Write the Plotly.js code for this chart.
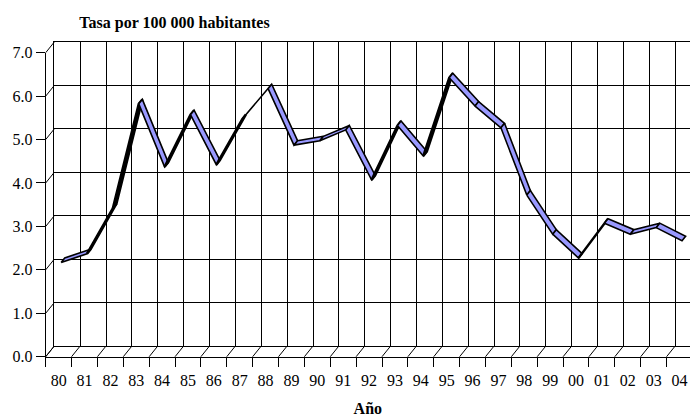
<!DOCTYPE html>
<html>
<head>
<meta charset="utf-8">
<script src="https://cdn.plot.ly/plotly-3.0.1.min.js"></script>
<style>html,body{margin:0;padding:0;background:#fff;}#chart{width:690px;height:417px;}</style>
</head>
<body>
<div id="chart"></div>
<script>
// ---- data ----
const years = ['80','81','82','83','84','85','86','87','88','89','90','91','92','93','94','95','96','97','98','99','00','01','02','03','04'];
const rate = [2.1, 2.3, 3.35, 5.75, 4.3, 5.5, 4.35, 5.4, 6.1, 4.8, 4.9, 5.15, 4.0, 5.25, 4.55, 6.35, 5.7, 5.2, 3.65, 2.75, 2.2, 3.0, 2.75, 2.9, 2.6];
const yTicks = [0, 1, 2, 3, 4, 5, 6, 7];
const titleText = 'Tasa por 100 000 habitantes';
const xTitleText = 'Año';

// ---- geometry (pixels) ----
const W = 690, H = 417;
const FX0 = 45.7, FY0 = 356.7;   // front origin
const CW = 25.87, UH = 43.43;    // category width, unit height
const DX = 8.6, DY = 10.7;       // full depth offset
const RIB = 0.42;                // ribbon depth fraction
const fontFam = '"Liberation Serif", "Times New Roman", serif';

const px = p => p / W;
const py = p => 1 - p / H;
const idx = years.map((_, i) => i);
const bounds = years.map((_, i) => i - 0.5);

function axisPair(ox, oy, extra) {
  return {
    x: Object.assign({
      domain: [px(FX0 + ox), 1],
      range: [-0.5, -0.5 + (W - FX0 - ox) / CW],
      zeroline: false, showgrid: false, fixedrange: true
    }, extra.x),
    y: Object.assign({
      domain: [py(FY0 - oy), py(FY0 - oy - 7 * UH)],
      range: [0, 7],
      zeroline: false, showgrid: false, fixedrange: true
    }, extra.y)
  };
}

const front = axisPair(0, 0, {
  x: {
    anchor: 'y', type: 'category', categoryorder: 'array', categoryarray: years,
    tickson: 'boundaries', ticks: 'outside', ticklen: 9, tickcolor: '#000', tickwidth: 1,
    ticklabelstandoff: 9,
    showline: true, linecolor: '#000', linewidth: 1,
    tickfont: { family: fontFam, size: 16, color: '#000' },
    title: { text: xTitleText, standoff: 15, font: { family: fontFam, size: 16, color: '#000', weight: 'bold' } }
  },
  y: {
    anchor: 'x', tickmode: 'array', tickvals: yTicks, tickformat: '.1f',
    ticks: 'outside', ticklen: 9, tickcolor: '#000', tickwidth: 1,
    showline: true, linecolor: '#000', linewidth: 1,
    tickfont: { family: fontFam, size: 16, color: '#000' }
  }
});

const back = axisPair(DX, DY, {
  x: {
    anchor: 'y2', tickmode: 'array', tickvals: bounds, showticklabels: false, ticks: '',
    showgrid: true, gridcolor: '#000', gridwidth: 1,
    showline: true, mirror: true, linecolor: '#000', linewidth: 1
  },
  y: {
    anchor: 'x2', tickmode: 'array', tickvals: yTicks, showticklabels: false, ticks: '',
    showgrid: true, gridcolor: '#000', gridwidth: 1,
    showline: true, mirror: false, linecolor: '#000', linewidth: 1
  }
});

const mid = axisPair(DX / 2, DY / 2, {
  x: { anchor: 'y3', showticklabels: false, ticks: '', showline: false },
  y: { anchor: 'x3', showticklabels: false, ticks: '', showline: false }
});

const traces = [];
// carrier traces so the front and back subplots are built (invisible)
traces.push({ type: 'scatter', mode: 'lines', x: years, y: rate, xaxis: 'x', yaxis: 'y',
  line: { color: 'rgba(0,0,0,0)' }, hoverinfo: 'skip', showlegend: false });
traces.push({ type: 'scatter', mode: 'lines', x: idx, y: rate, xaxis: 'x2', yaxis: 'y2',
  line: { color: 'rgba(0,0,0,0)' }, hoverinfo: 'skip', showlegend: false });

// ---- ribbon (3D line) ----
const hx = (RIB * DX / 2) / CW, hy = (RIB * DY / 2) / UH;
for (let i = 0; i < rate.length - 1; i++) {
  const v1 = rate[i], v2 = rate[i + 1];
  const cross = CW * (-RIB * DY) + (v2 - v1) * UH * (RIB * DX);
  const top = cross < 0;
  traces.push({
    type: 'scatter', mode: 'lines', xaxis: 'x3', yaxis: 'y3',
    x: [i - hx, i + 1 - hx, i + 1 + hx, i + hx, i - hx],
    y: [v1 - hy, v2 - hy, v2 + hy, v1 + hy, v1 - hy],
    fill: 'toself', fillcolor: top ? '#9999FF' : '#000000',
    line: { color: '#000', width: top ? 1.6 : 2.4, shape: 'linear' },
    hoverinfo: 'skip', showlegend: false
  });
}

// ---- depth diagonals (side wall and floor) ----
const shapes = [];
yTicks.forEach(v => {
  const yf = FY0 - v * UH;
  shapes.push({ type: 'line', xref: 'paper', yref: 'paper',
    x0: px(FX0), y0: py(yf), x1: px(FX0 + DX), y1: py(yf - DY),
    line: { color: '#000', width: 1 } });
});
bounds.forEach((b, k) => {
  const xf = FX0 + k * CW;
  shapes.push({ type: 'line', xref: 'paper', yref: 'paper',
    x0: px(xf), y0: py(FY0), x1: px(xf + DX), y1: py(FY0 - DY),
    line: { color: '#000', width: 1 } });
});

const layout = {
  width: W, height: H,
  margin: { l: 0, r: 0, t: 0, b: 0 },
  paper_bgcolor: '#fff', plot_bgcolor: 'rgba(0,0,0,0)',
  showlegend: false,
  title: { text: titleText, x: px(174.5), xanchor: 'center', xref: 'paper',
           y: py(22.5), yanchor: 'middle', yref: 'paper',
           font: { family: fontFam, size: 16, color: '#000', weight: 'bold' } },
  xaxis: front.x, yaxis: front.y,
  xaxis2: back.x, yaxis2: back.y,
  xaxis3: mid.x, yaxis3: mid.y,
  shapes: shapes
};

Plotly.newPlot('chart', traces, layout, { staticPlot: true, displayModeBar: false });
</script>
</body>
</html>
